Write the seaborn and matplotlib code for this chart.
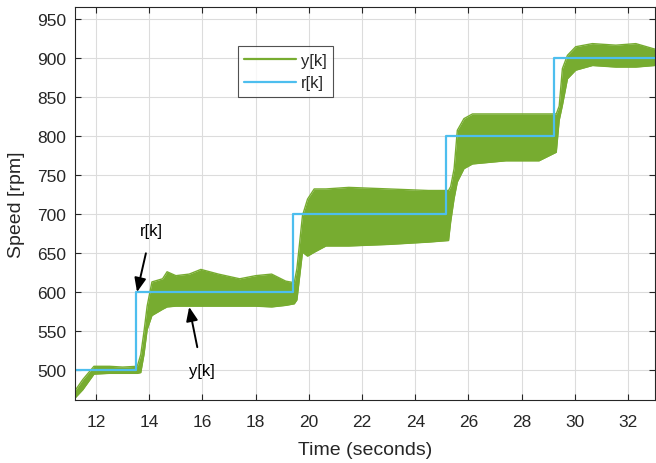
import matplotlib
matplotlib.use("Agg")
import matplotlib.pyplot as plt
import seaborn as sns
import pandas as pd
from matplotlib.lines import Line2D

# reference r[k] (step setpoints)
r_time = [11.2, 13.5, 19.4, 25.15, 29.2, 33.0]
r_speed = [500, 600, 700, 800, 900, 900]

y_time = [11.17, 11.5, 11.92, 12.5, 13.0, 13.55, 13.68, 13.8, 13.92, 14.1, 14.5, 14.67,
          15.0, 15.5, 15.94, 16.6, 17.4, 18.0, 18.6, 19.13, 19.45, 19.55, 19.76, 19.95,
          20.2, 20.64, 21.5, 23.0, 24.5, 25.25, 25.33, 25.46, 25.58, 25.83, 26.15, 27.4,
          28.65, 29.3, 29.41, 29.53, 29.72, 30.03, 30.66, 31.54, 32.29, 33.0]
y_upper = [472, 488, 505, 505, 504, 505, 520, 549, 582, 613, 617, 626,
           621, 623, 629, 623, 617, 621, 623, 614, 612, 630, 698, 719,
           732, 732, 734, 732, 730, 730, 735, 758, 807, 822, 828, 828,
           828, 828, 838, 886, 903, 914, 918, 916, 918, 911]
y_lower = [463, 475, 495, 496, 496, 496, 497, 520, 552, 570, 578, 581,
           582, 582, 582, 582, 582, 582, 581, 583, 585, 590, 651, 646,
           651, 659, 659, 661, 664, 666, 690, 720, 741, 758, 764, 768,
           768, 779, 820, 839, 873, 884, 890, 888, 888, 890]

green = "#77AC30"
blue = "#4DBEEE"
dark = "#262626"

sns.set_theme(style="whitegrid")
plt.rcParams['font.family'] = ['Liberation Sans', 'DejaVu Sans']

env = pd.DataFrame({"t": y_time, "hi": y_upper, "lo": y_lower})
ref = pd.DataFrame({"t": r_time, "r": r_speed})

fig = plt.figure(figsize=(6.56, 4.64), dpi=100)
ax = fig.add_axes([0.114, 0.136, 0.884, 0.847])
ax.set_facecolor("white")

ax.fill_between(env["t"], env["lo"], env["hi"], color=green, linewidth=0)
sns.lineplot(data=env, x="t", y="hi", ax=ax, color=green, linewidth=1.0, estimator=None, sort=False)
sns.lineplot(data=env, x="t", y="lo", ax=ax, color=green, linewidth=1.0, estimator=None, sort=False)
sns.lineplot(data=ref, x="t", y="r", ax=ax, color=blue, linewidth=1.6,
             drawstyle="steps-post", estimator=None, sort=False)

ax.set_xlim(11.2, 33.0)
ax.set_ylim(462, 965)
ax.set_xticks(range(12, 33, 2))
ax.set_yticks(range(500, 951, 50))
ax.grid(True, color="#dcdcdc", linewidth=0.8)
for s in ax.spines.values():
    s.set_color(dark)
    s.set_linewidth(0.8)
    s.set_visible(True)
ax.tick_params(direction="in", length=4, width=0.8, colors=dark, labelsize=12.5,
               top=True, right=True, bottom=True, left=True)
ax.tick_params(axis="x", pad=10)
ax.tick_params(axis="y", pad=6)
for lab in ax.get_xticklabels() + ax.get_yticklabels():
    lab.set_color(dark)

ax.set_xlabel("Time (seconds)", fontsize=14, color=dark, labelpad=9)
ax.set_ylabel("Speed [rpm]", fontsize=14, color=dark, labelpad=9)

handles = [Line2D([0], [0], color=green, linewidth=1.6),
           Line2D([0], [0], color=blue, linewidth=1.6)]
leg = ax.legend(handles, ["y[k]", "r[k]"], loc="upper left", bbox_to_anchor=(0.281, 0.90),
                borderaxespad=0, frameon=True, fancybox=False, edgecolor=dark, fontsize=12,
                handlelength=3.1, borderpad=0.4, labelspacing=0.45, handletextpad=0.3)
leg.get_frame().set_linewidth(0.8)

ax.annotate("r[k]", xy=(13.54, 600), xytext=(14.07, 679), fontsize=12, color="black",
            ha="center", va="center",
            arrowprops=dict(arrowstyle="-|>,head_length=0.6,head_width=0.25", color="black",
                            lw=1.4, mutation_scale=14, shrinkA=9, shrinkB=0))
ax.annotate("y[k]", xy=(15.5, 581), xytext=(15.98, 500), fontsize=12, color="black",
            ha="center", va="center",
            arrowprops=dict(arrowstyle="-|>,head_length=0.6,head_width=0.25", color="black",
                            lw=1.4, mutation_scale=14, shrinkA=9, shrinkB=0))

fig.savefig("out.png", dpi=100)
